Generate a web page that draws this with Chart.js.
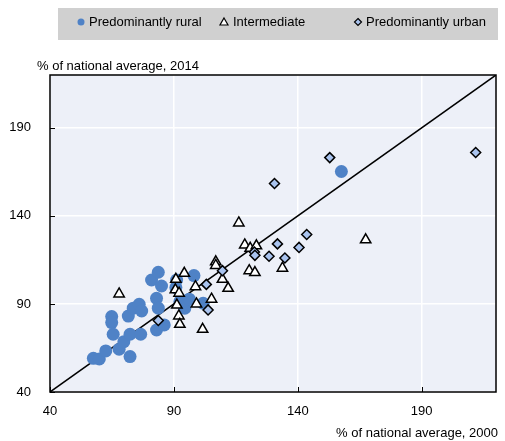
<!DOCTYPE html>
<html>
<head>
<meta charset="utf-8">
<script src="https://cdn.jsdelivr.net/npm/chart.js@4.4.1/dist/chart.umd.min.js"></script>
<style>
  html, body { margin: 0; padding: 0; background: #fff; }
  #wrap { width: 505px; height: 441px; position: relative; }
</style>
</head>
<body>
<div id="wrap"><canvas id="chart" width="505" height="441"></canvas></div>
<script>
// axis ticks
var xTicks = [40, 90, 140, 190];
var yTicks = [40, 90, 140, 190];
var axisMin = 40, axisMax = 220;

// series: [2000, 2014] as % of national average
var ruralX = [57.5, 59.9, 62.5, 64.9, 64.9, 65.5, 67.9, 69.8, 72.3, 72.3, 71.6, 73.6, 76.0, 77.0, 76.6,
              81.0, 83.7, 85.0, 83.0, 83.7, 83.0, 86.1, 91.1, 90.8, 92.4, 94.4, 96.2, 98.1, 101.8, 157.6];
var ruralY = [59.1, 58.8, 63.3, 82.8, 79.4, 72.8, 64.3, 68.6, 72.8, 60.1, 83.1, 87.6, 89.8, 86.0, 72.8,
              103.6, 108.0, 100.2, 93.2, 87.6, 75.2, 78.1, 103.6, 99.3, 91.3, 87.6, 92.7, 106.1, 90.4, 165.2];

var interX = [67.9, 94.2, 90.8, 90.6, 92.1, 98.7, 106.9, 106.9, 109.6, 111.9, 105.2, 99.1, 91.2, 92.0,
              92.4, 101.6, 116.2, 118.6, 120.8, 123.3, 120.4, 122.7, 133.8, 167.4];
var interY = [95.7, 107.4, 104.0, 98.0, 96.1, 99.8, 113.9, 111.9, 104.0, 98.9, 92.7, 90.0, 89.4, 83.2,
              78.4, 75.6, 136.0, 123.5, 121.6, 123.0, 108.9, 107.8, 110.3, 126.4];

var urbanX = [83.7, 103.1, 103.8, 109.6, 122.5, 122.7, 128.4, 131.8, 134.8, 140.5, 143.6, 130.6, 152.9, 211.8];
var urbanY = [80.6, 101.1, 86.6, 108.9, 119.5, 117.6, 117.1, 124.1, 116.1, 122.1, 129.4, 158.4, 173.1, 176.0];

var seriesNames = ['Predominantly rural', 'Intermediate', 'Predominantly urban'];

function pts(xs, ys) {
  return xs.map(function(x, i) { return { x: x, y: ys[i] }; });
}

var FONT = '"Liberation Sans", Arial, sans-serif';

// background, border, inward ticks, legend and axis titles
var decor = {
  id: 'decor',
  beforeDatasetsDraw: function(chart) {},
  beforeDraw: function(chart) {
    var c = chart.ctx, a = chart.chartArea;
    c.save();
    c.fillStyle = '#edf0f8';
    c.fillRect(a.left, a.top, a.right - a.left, a.bottom - a.top);
    c.restore();
  },
  afterDraw: function(chart) {
    var c = chart.ctx, a = chart.chartArea;
    var xs = chart.scales.x, ys = chart.scales.y;
    c.save();
    c.strokeStyle = '#000';
    c.lineWidth = 1.5;
    c.strokeRect(a.left, a.top, a.right - a.left, a.bottom - a.top);
    c.lineWidth = 1;
    c.beginPath();
    xTicks.forEach(function(t) {
      var p = Math.round(xs.getPixelForValue(t)) + 0.5;
      c.moveTo(p, a.bottom); c.lineTo(p, a.bottom - 5);
    });
    yTicks.forEach(function(t) {
      var p = Math.round(ys.getPixelForValue(t)) + 0.5;
      c.moveTo(a.left, p); c.lineTo(a.left + 5, p);
    });
    c.stroke();

    // legend
    c.fillStyle = '#d0d0d0';
    c.fillRect(58, 8, 440, 32);
    c.font = '13px ' + FONT;
    c.textBaseline = 'middle';
    c.fillStyle = '#000';
    var ly = 22;
    // rural
    c.fillStyle = '#4f82c6';
    c.beginPath(); c.arc(81, ly, 3.5, 0, Math.PI * 2); c.fill();
    c.fillStyle = '#000';
    c.fillText(seriesNames[0], 89, ly);
    // intermediate
    c.beginPath();
    c.moveTo(224, ly - 4); c.lineTo(228, ly + 3); c.lineTo(220, ly + 3); c.closePath();
    c.fillStyle = '#fff'; c.fill();
    c.lineWidth = 1.2; c.strokeStyle = '#000'; c.stroke();
    c.fillStyle = '#000';
    c.fillText(seriesNames[1], 233, ly);
    // urban
    c.beginPath();
    c.moveTo(358, ly - 3.5); c.lineTo(361.5, ly); c.lineTo(358, ly + 3.5); c.lineTo(354.5, ly); c.closePath();
    c.fillStyle = '#a9c3ee'; c.fill(); c.stroke();
    c.fillStyle = '#000';
    c.fillText(seriesNames[2], 366, ly);

    // axis titles
    c.textBaseline = 'alphabetic';
    c.textAlign = 'left';
    c.fillText('% of national average, 2014', 37, 70);
    c.textAlign = 'right';
    c.fillText('% of national average, 2000', 498, 437);
    c.restore();
  }
};

var ctx = document.getElementById('chart');
new Chart(ctx, {
  type: 'scatter',
  data: {
    datasets: [
      {
        type: 'line', label: 'diag',
        data: [{ x: axisMin, y: axisMin }, { x: axisMax, y: axisMax }],
        borderColor: '#000', borderWidth: 1.5, pointRadius: 0, order: 4
      },
      {
        label: seriesNames[0], data: pts(ruralX, ruralY),
        pointStyle: 'circle', pointRadius: 6.5, backgroundColor: '#4f82c6',
        borderColor: '#4f82c6', borderWidth: 0, order: 3
      },
      {
        label: seriesNames[1], data: pts(interX, interY),
        pointStyle: 'triangle', pointRadius: 6, backgroundColor: '#ffffff',
        borderColor: '#000', borderWidth: 1.5, order: 2
      },
      {
        label: seriesNames[2], data: pts(urbanX, urbanY),
        pointStyle: 'rectRot', pointRadius: 5, backgroundColor: '#a9c3ee',
        borderColor: '#000', borderWidth: 1.5, order: 1
      }
    ]
  },
  options: {
    responsive: false,
    animation: false,
    layout: { padding: { top: 75, right: 9, left: 0, bottom: 0 } },
    plugins: { legend: { display: false }, tooltip: { enabled: false } },
    scales: {
      x: {
        type: 'linear', min: axisMin, max: axisMax,
        afterBuildTicks: function(s) { s.ticks = xTicks.map(function(v) { return { value: v }; }); },
        afterFit: function(s) { s.height = 49; },
        grid: { color: '#ffffff', lineWidth: 1.5, drawTicks: false },
        border: { display: false },
        ticks: { color: '#000', font: { family: FONT, size: 13 }, padding: 12, maxRotation: 0 }
      },
      y: {
        type: 'linear', min: axisMin, max: axisMax,
        afterBuildTicks: function(s) { s.ticks = yTicks.map(function(v) { return { value: v }; }); },
        afterFit: function(s) { s.width = 50; },
        grid: { color: '#ffffff', lineWidth: 1.5, drawTicks: false },
        border: { display: false },
        ticks: { color: '#000', font: { family: FONT, size: 13 }, padding: 19 }
      }
    }
  },
  plugins: [decor]
});
</script>
</body>
</html>
